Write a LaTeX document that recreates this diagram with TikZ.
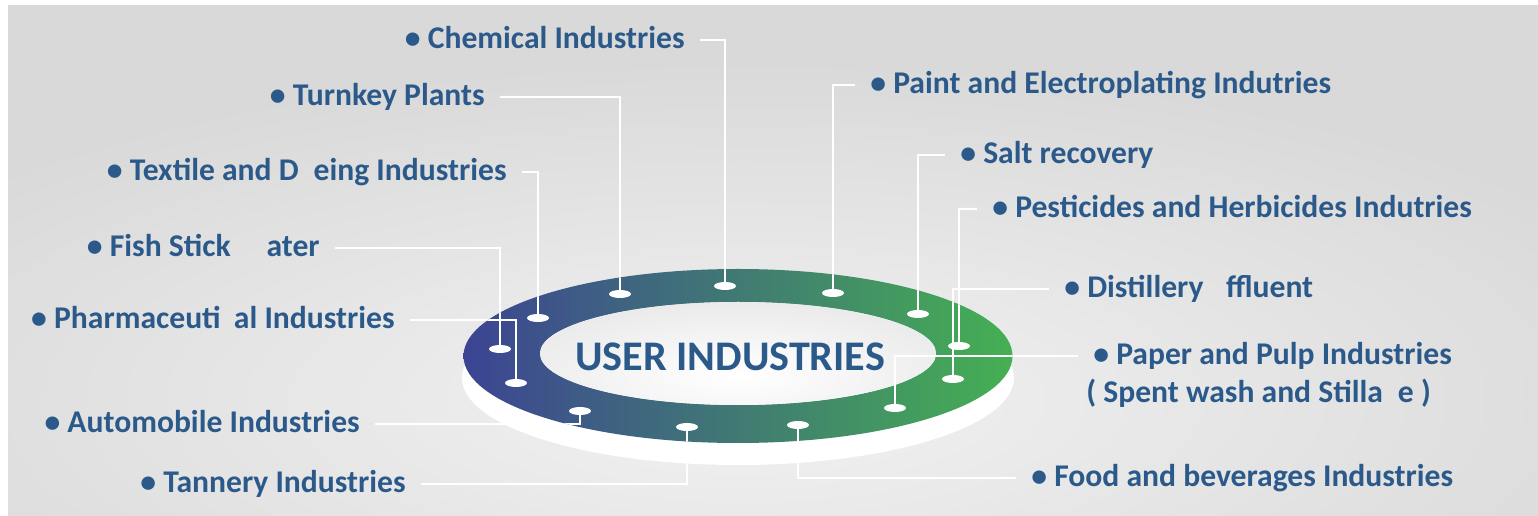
\documentclass[tikz,border=0pt]{standalone}
\usepackage{fontspec}
\setmainfont{Carlito}
\usetikzlibrary{positioning}

\definecolor{bggray}{HTML}{D9D9D9}
\definecolor{bglight}{HTML}{F2F2F2}
\definecolor{textblue}{RGB}{43,90,138}
\definecolor{ringblue}{HTML}{3C4493}
\definecolor{ringteal}{HTML}{3F7A78}
\definecolor{ringgreen}{HTML}{45B053}

\tikzset{
  lbl/.style={text=textblue, font=\fontsize{18}{21.6}\selectfont\bfseries,
    inner xsep=0.3cm, inner ysep=0pt, text height=0.34cm, text depth=0pt},
  title/.style={text=textblue, font=\fontsize{24}{29}\selectfont\bfseries},
  wire/.style={draw=white, line width=1.2pt},
}

% dot / label / side of the label where the wire ends
\def\wirelist{dchem/chem/east, dturn/turn/east, dtext/text/east, dfish/fish/east,
  dpharm/pharm/east, dauto/auto/east, dtan/tan/east, dpaint/paint/west,
  dsalt/salt/west, dpest/pest/west, ddist/dist/west, dpaper/paper/west, dfood/food/west}

\begin{document}
\begin{tikzpicture}[x=0.02cm, y=-0.02cm]
    \useasboundingbox (0,0) rectangle (1538,516);

    % background with a soft glow round the ring
    \fill[bggray] (8,5) rectangle (1538,516);
    \begin{scope}
        \clip (8,5) rectangle (1538,516);
        \shade[inner color=bglight, outer color=bggray] (745,400) ellipse (1000 and 340);
    \end{scope}

    % holes on the ring
    \coordinate (dchem)  at (725,286);
    \coordinate (dturn)  at (620,294);
    \coordinate (dpaint) at (833,293);
    \coordinate (dtext)  at (538,318);
    \coordinate (dsalt)  at (918,314);
    \coordinate (dfish)  at (500,349);
    \coordinate (dpest)  at (959,346);
    \coordinate (dpharm) at (516,383);
    \coordinate (ddist)  at (953,379);
    \coordinate (dpaper) at (895,408);
    \coordinate (dauto)  at (580,411);
    \coordinate (dtan)   at (687,427);
    \coordinate (dfood)  at (798,425);

    % labels on the left
    \node[lbl, anchor=east] (chem)  at (700,40)  {• Chemical Industries};
    \node[lbl, anchor=east] (turn)  at (500,97)  {• Turnkey Plants};
    \node[lbl, anchor=east] (text)  at (522,172) {• Textile and D\phantom{y}eing Industries};
    \node[lbl, anchor=east] (fish)  at (335,248) {• Fish Stick \phantom{W}ater};
    \node[lbl, anchor=east] (pharm) at (410,320) {• Pharmaceuti\phantom{c}al Industries};
    \node[lbl, anchor=east] (auto)  at (375,424) {• Automobile Industries};
    \node[lbl, anchor=east] (tan)   at (421,484) {• Tannery Industries};

    % labels on the right
    \node[lbl, anchor=west] (paint) at (855,85)   {• Paint and Electroplating Indutries};
    \node[lbl, anchor=west] (salt)  at (945,155)  {• Salt recovery};
    \node[lbl, anchor=west] (pest)  at (977,209)  {• Pesticides and Herbicides Indutries};
    \node[lbl, anchor=west] (dist)  at (1049,289) {• Distillery \phantom{E}ffluent};
    \node[lbl, anchor=west] (paper) at (1078,356) {• Paper and Pulp Industries};
    \node[lbl, below=0.76cm of paper.west, anchor=west, xshift=-0.14cm] (spent) {( Spent wash and Stilla\phantom{g}e )};
    \node[lbl, anchor=west] (food)  at (1016,478) {• Food and beverages Industries};

    % wires (the white base hides them where it lies on top)
    \foreach \d/\l/\s in \wirelist
        \draw[wire] (\d) |- (\l.\s);

    % ring: white base, coloured top, hole
    \fill[white] (738,378) ellipse (276 and 87);
    \shade[left color=ringblue, middle color=ringteal, right color=ringgreen]
        (738,356) ellipse (274.5 and 87);
    \fill[white] (738,353.5) ellipse (198 and 51.5);
    \begin{scope}
        \clip (738,353.5) ellipse (198 and 51.5);
        \shade[inner color=white, outer color=bglight!92!gray] (738,376) ellipse (260 and 80);
    \end{scope}

    % wires again, over the ring only
    \begin{scope}
        \clip (738,356) ellipse (274.5 and 87);
        \foreach \d/\l/\s in \wirelist
            \draw[wire] (\d) |- (\l.\s);
    \end{scope}

    \foreach \d in {dchem,dturn,dpaint,dtext,dsalt,dfish,dpest,dpharm,ddist,dpaper,dauto,dtan,dfood}
        \fill[white] (\d) ellipse (11 and 4);

    \node[title] (user) at (730,357) {USER INDUSTRIES};
\end{tikzpicture}
\end{document}
